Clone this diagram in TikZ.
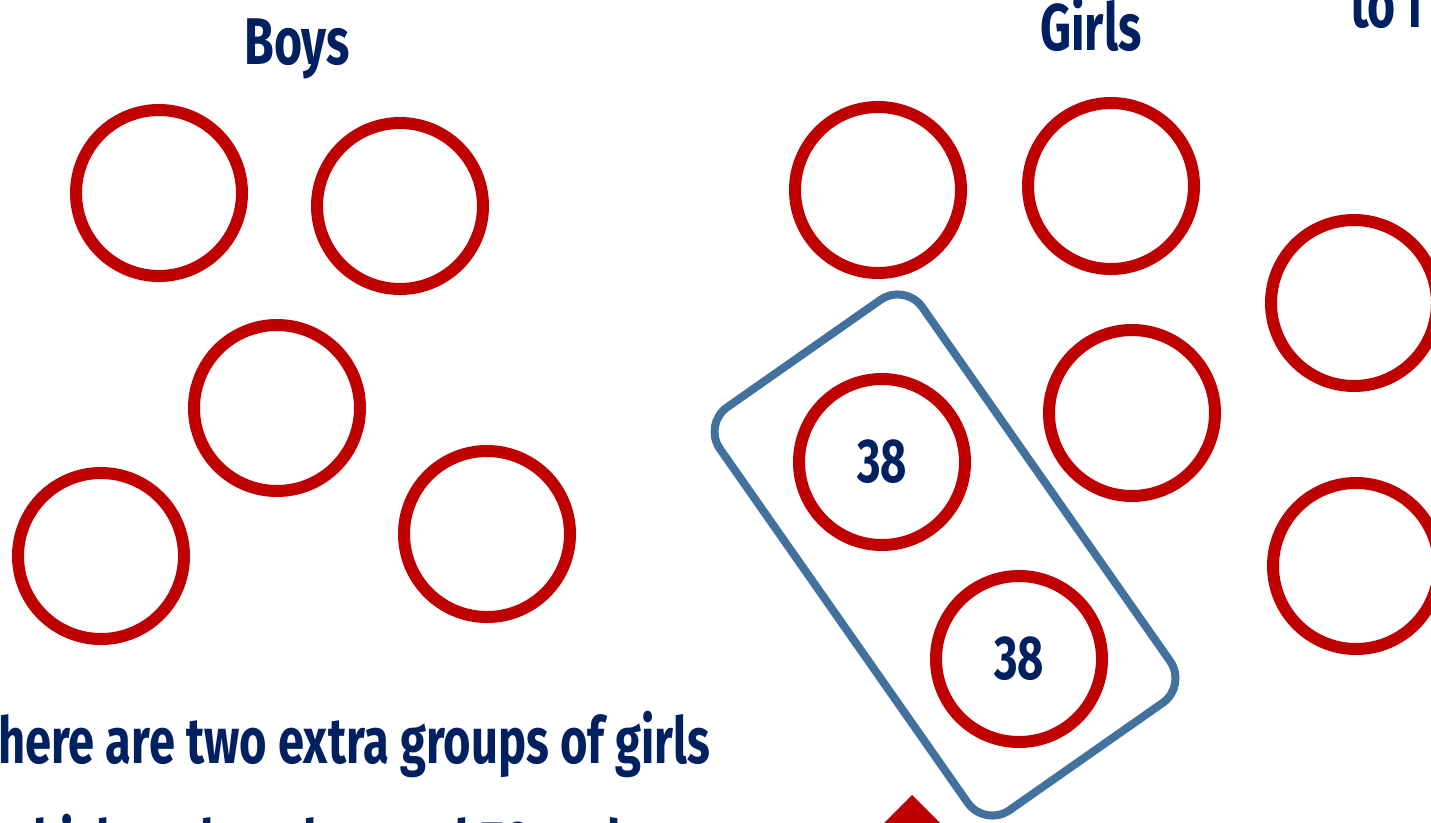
\documentclass[tikz,border=0pt]{standalone}
\usepackage{fontspec}
\newfontfamily\hand[FakeStretch=0.73]{Fira Sans}
\definecolor{ringred}{HTML}{C00000}
\definecolor{boxblue}{HTML}{41719C}
\definecolor{inkblue}{HTML}{002060}
\begin{document}
\begin{tikzpicture}[
    x=1pt, y=-1pt,
    ring/.style={circle, draw=ringred, line width=12pt, minimum size=166pt, inner sep=0pt,
      font=\hand\bfseries\fontsize{62}{62}\selectfont, text=inkblue},
    title/.style={font=\hand\bfseries\fontsize{66}{70}\selectfont, text=inkblue, inner sep=0pt},
    sentence/.style={title, font=\hand\bfseries\fontsize{64.5}{70}\selectfont, anchor=base west},
    pair/.style={draw=boxblue, line width=8pt, rounded corners=30pt,
      minimum width=492pt, minimum height=247pt, rotate=-55},
  ]
    \useasboundingbox (0,0) rectangle (1431,822);
    \clip (0,0) rectangle (1431,822);

    % === headings ===
    \node[title, anchor=base] (boys) at (297,64) {Boys};
    \node[title, anchor=base] (girls) at (1091,50) {Girls};
    \node[title, anchor=base west] (tof) at (1350,27) {to f};

    % === boys ===
    \node[ring] (b1) at (159,193) {};
    \node[ring] (b2) at (400,206) {};
    \node[ring] (b3) at (277,408) {};
    \node[ring] (b4) at (101,556) {};
    \node[ring] (b5) at (487,534) {};

    % === girls ===
    \node[ring] (g1) at (878,190) {};
    \node[ring] (g2) at (1111,186) {};
    \node[ring] (g3) at (1132,413) {};
    \node[ring] (g4) at (1354,303) {};
    \node[ring] (g5) at (1356,566) {};

    % extra pair of groups
    \node[pair] (pairbox) at (945,555) {};
    \node[ring] (e1) at (882,462) {38};
    \node[ring] (e2) at (1019,659) {38};

    % pointer
    \fill[ringred] (912,795) -- (962,845) -- (862,845) -- cycle;

    % === text ===
    \node[sentence] (line1) at (-2,763) {here are two extra groups of girls};
    \node[sentence] (line2) at (-2,866) {which makes the total 76 and};
  \end{tikzpicture}
\end{document}
